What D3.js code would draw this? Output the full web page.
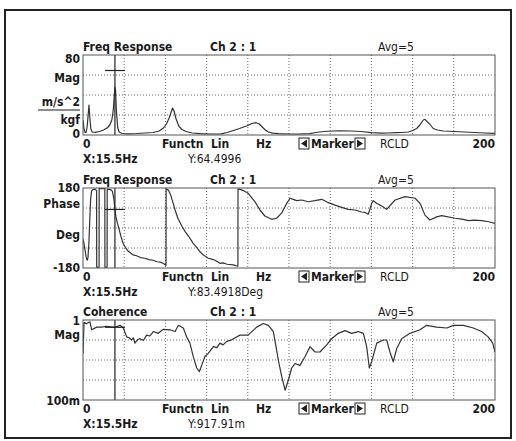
<!DOCTYPE html>
<html>
<head>
<meta charset="utf-8">
<script src="https://cdn.jsdelivr.net/npm/d3@7"></script>
<style>
  body { margin: 0; background: #fff; }
  svg { display: block; }
  text { font-family: "DejaVu Sans Condensed", "DejaVu Sans", sans-serif; font-size: 12px; fill: #1a1a1a; }
  .b { font-weight: bold; }
</style>
</head>
<body>
<svg id="chart" width="516" height="441"></svg>
<script>
// --- data ---
var titles = ["Freq Response", "Freq Response", "Coherence"];
var channel = "Ch 2 : 1";
var avgLabel = "Avg=5";
var xTickLabels = ["0", "200"];
var xUnitsRow = ["Functn  Lin", "Hz", "Marker", "RCLD"];
var markerFreq = 15.5;
var markerReadX = "X:15.5Hz";
var markerReadY = ["Y:64.4996", "Y:83.4918Deg", "Y:917.91m"];
var markerValue = [64.4996, 83.4918, 0.91791];
var yDomains = [[0, 80], [-180, 180], [0.1, 1]];

// magnitude (m/s^2 / kgf)
var magFreq = [0,0.5,1,1.5,2,2.5,2.9,3.3,3.8,4.5,6,8,10,12,13,14,14.7,15.2,15.5,15.8,16.2,16.8,17.5,19,22,26,30,34,37,39,40.5,41.8,42.8,43.5,44.2,45.2,46.5,48,50,53,57,62,67,70,73,76,78,80,82,84,85.5,87,88.5,90,92,95,100,105,110,113,117,121,125,130,135,140,145,148,152,155,158,160,162,163.5,164.5,165.2,166,167,168.5,170,172,175,180,185,190,195,200];
var magValue = [15,6,2.5,2.5,8,20,30,18,6,3,2.7,3.5,5,7.5,10,15,25,40,48,45,25,8,3,1.5,1.2,1.5,2,2.5,4,7,11,17,23,27,24,16,9,5.5,3.5,2,1.3,1,1.2,2.5,4.5,6.5,8,9.5,11.5,12.3,11,8,5,3,1.8,1.3,1,1,1.3,2.5,3.5,4,4.2,4,3.5,2.3,1.8,2,2.3,2.5,3,4.5,6.5,10,13,15,15.7,13.5,10.5,6.5,5,4,3.5,3,2.5,2,1.7,1.7];

// phase (deg), wraps at +/-180
var phaseFreq = [0,0.5,1,1.5,2,2.4,2.9,3.3,3.7,4.2,5,6,6.6,6.65,7.8,7.85,10.6,10.65,11.7,11.75,12.5,13.5,14.3,15,15.5,16,16.6,17.5,18.5,19.5,20.5,22,24.4,26,28,30,32,34,36,38,39,40.3,40.35,41.5,42.5,43.8,44.7,46,47.9,49.5,51.1,53.5,55,56.8,58.5,60.8,62.5,64.1,66.5,68,70,73,75.2,75.25,76.2,78,80.2,83.5,85.9,88.3,91.6,94,96.5,98.9,100.5,102.1,103.7,106.2,109.4,112.6,115.9,119.1,122.3,125.6,128.8,132,135.3,136.9,138.5,140.1,140.9,142.7,144.2,147.4,151.5,156.3,161.2,163.6,166,168.4,171.7,174.1,180.6,184,187,190,193.5,197,200];
var phaseValue = [-50,-70,-100,-130,-145,-135,-60,40,130,168,174,174,168,-177,-176,177,178,-177,-176,175,174,172,165,130,83.5,50,25,-5,-40,-70,-86,-105,-121,-125,-133,-136,-142,-145,-152,-155,-160,-168,176,170,150,111,81,45,10,-15,-35,-69,-85,-107,-122,-136,-140,-145,-159,-157,-163,-166,-172,176,174,168,156,118,81,54,39,44,68,111,134,129,123,126,118,123,129,114,103,93,84,81,72,70,62,110,123,110,103,84,126,141,134,111,58,36,50,56,44,40,33,35,33,28,21];

// coherence
var cohFreq = [0,0.5,1.8,3.4,4.2,6.7,9,11.5,15.5,18,19.6,21.2,22.4,23.6,24.4,25.2,26.5,27.7,29.3,30.9,32.5,34.1,36.5,39,42.2,44.7,46.3,48.7,50.3,51.9,53.5,55.2,56.5,57.6,59.2,60.8,62,63.3,65,66.5,68,69.8,71.5,73,76.2,80.2,84.3,87.5,90,92.4,94,94.8,96.5,98.1,99.7,101.3,102.9,105.3,107.8,110.2,112.6,115,118.3,120.7,123.9,127.2,130.4,133.6,136.1,137.7,139,140.1,142.6,145.8,147.4,149,150.6,152.3,154.7,158.7,163.6,166.8,171.7,176.6,179.8,184.6,189.5,193.5,196.7,198.9,200];
var cohValue = [0.62,0.97,0.96,0.98,0.89,0.92,0.92,0.93,0.918,0.94,0.91,0.81,0.8,0.775,0.8,0.74,0.78,0.79,0.77,0.83,0.82,0.87,0.85,0.895,0.89,0.87,0.94,0.91,0.81,0.74,0.59,0.46,0.42,0.49,0.59,0.625,0.66,0.7,0.69,0.74,0.72,0.76,0.77,0.79,0.83,0.83,0.92,0.96,0.94,0.87,0.66,0.55,0.36,0.21,0.325,0.46,0.51,0.49,0.59,0.7,0.64,0.64,0.72,0.79,0.85,0.88,0.85,0.87,0.85,0.7,0.46,0.53,0.74,0.775,0.775,0.64,0.53,0.68,0.79,0.85,0.89,0.94,0.92,0.91,0.94,0.94,0.91,0.87,0.81,0.74,0.64];

var series = [
  d3.zip(magFreq, magValue),
  d3.zip(phaseFreq, phaseValue),
  d3.zip(cohFreq, cohValue)
];

// --- layout ---
var svg = d3.select("#chart");
var left = 83, right = 495, plotH = 80;
var tops = [55, 188, 320];
var x = d3.scaleLinear().domain([0, 200]).range([left, right]);

// y labels per panel: [text, baseline offset from plot top, underlined]
var yLabels = [
  [["80", 7.5], ["Mag", 26.5], ["m/s^2", 51, true], ["kgf", 69], ["0", 83]],
  [["180", 4], ["Phase", 20], ["Deg", 51], ["-180", 84]],
  [["1", 5], ["Mag", 19], ["100m", 85]]
];

// outer frame
svg.append("rect")
  .attr("x", 5).attr("y", 10).attr("width", 506).attr("height", 428)
  .attr("fill", "none").attr("stroke", "#222").attr("stroke-width", 2);

tops.forEach(function(top, i){
  var y = d3.scaleLinear().domain(yDomains[i]).range([top + plotH, top]);
  var g = svg.append("g");

  // grid
  var xGrid = d3.range(20, 200, 20);
  g.selectAll(".vg").data(xGrid).enter().append("line")
    .attr("x1", function(d){ return x(d); }).attr("x2", function(d){ return x(d); })
    .attr("y1", top).attr("y2", top + plotH)
    .attr("stroke", "#666").attr("stroke-dasharray", "1,2");
  var yTicks = d3.range(1, 4).map(function(k){ return yDomains[i][0] + k * (yDomains[i][1] - yDomains[i][0]) / 4; });
  g.selectAll(".hg").data(yTicks).enter().append("line")
    .attr("x1", left).attr("x2", right)
    .attr("y1", function(d){ return y(d); }).attr("y2", function(d){ return y(d); })
    .attr("stroke", "#666").attr("stroke-dasharray", "1,2");

  // trace
  svg.append("clipPath").attr("id", "clip" + i).append("rect")
    .attr("x", left).attr("y", top).attr("width", right - left).attr("height", plotH);
  var line = d3.line().x(function(d){ return x(d[0]); }).y(function(d){ return y(d[1]); });
  g.append("path")
    .attr("d", line(series[i]))
    .attr("clip-path", "url(#clip" + i + ")")
    .attr("fill", "none").attr("stroke", "#333").attr("stroke-width", 1.2)
    .attr("stroke-linejoin", "round");

  // marker
  g.append("line")
    .attr("x1", x(markerFreq)).attr("x2", x(markerFreq))
    .attr("y1", top).attr("y2", top + plotH)
    .attr("stroke", "#222").attr("stroke-width", 1.2);
  g.append("line")
    .attr("x1", x(markerFreq) - 10).attr("x2", x(markerFreq) + 10)
    .attr("y1", y(markerValue[i])).attr("y2", y(markerValue[i]))
    .attr("stroke", "#222").attr("stroke-width", 1.2);

  // plot border
  g.append("rect")
    .attr("x", left).attr("y", top).attr("width", right - left).attr("height", plotH)
    .attr("fill", "none").attr("stroke", "#555").attr("stroke-width", 1);

  // title row
  g.append("text").attr("class", "b").attr("x", left).attr("y", top - 4.5).text(titles[i]);
  g.append("text").attr("class", "b").attr("x", 210).attr("y", top - 4.5).text(channel);
  g.append("text").attr("x", 378).attr("y", top - 4.5).text(avgLabel);

  // y labels
  yLabels[i].forEach(function(l){
    var t = g.append("text").attr("class", "b").attr("text-anchor", "end")
      .attr("x", 80).attr("y", top + l[1]).text(l[0]);
    if (l[2]) {
      g.append("line").attr("x1", 38).attr("x2", 80)
        .attr("y1", top + l[1] + 4).attr("y2", top + l[1] + 4)
        .attr("stroke", "#1a1a1a").attr("stroke-width", 1.2);
    }
  });

  // x axis row
  var row1 = top + plotH + 13, row2 = top + plotH + 28;
  g.append("text").attr("class", "b").attr("x", x(0)).attr("y", row1).text(xTickLabels[0]);
  g.append("text").attr("class", "b").attr("x", x(200)).attr("text-anchor", "end").attr("y", row1).text(xTickLabels[1]);
  g.append("text").attr("class", "b").attr("x", 162).attr("y", row1).attr("xml:space", "preserve").text(xUnitsRow[0]);
  g.append("text").attr("class", "b").attr("x", 256).attr("y", row1).text(xUnitsRow[1]);
  g.append("text").attr("class", "b").attr("x", 311).attr("y", row1).text(xUnitsRow[2]);
  g.append("text").attr("x", 380).attr("y", row1).text(xUnitsRow[3]);

  // marker arrow boxes
  [[299, -1], [355, 1]].forEach(function(b){
    var bx = b[0], by = row1 - 10;
    g.append("rect").attr("x", bx).attr("y", by).attr("width", 10).attr("height", 11)
      .attr("fill", "#fff").attr("stroke", "#222").attr("stroke-width", 1);
    var cx = bx + 5, cy = by + 5.5;
    var pts = b[1] < 0
      ? [[cx + 3, cy - 4], [cx + 3, cy + 4], [cx - 3, cy]]
      : [[cx - 3, cy - 4], [cx - 3, cy + 4], [cx + 3, cy]];
    g.append("path").attr("d", "M" + pts.join("L") + "Z").attr("fill", "#222");
  });

  g.append("text").attr("class", "b").attr("x", left).attr("y", row2).text(markerReadX);
  g.append("text").attr("x", 188).attr("y", row2).text(markerReadY[i]);
});
</script>
</body>
</html>
